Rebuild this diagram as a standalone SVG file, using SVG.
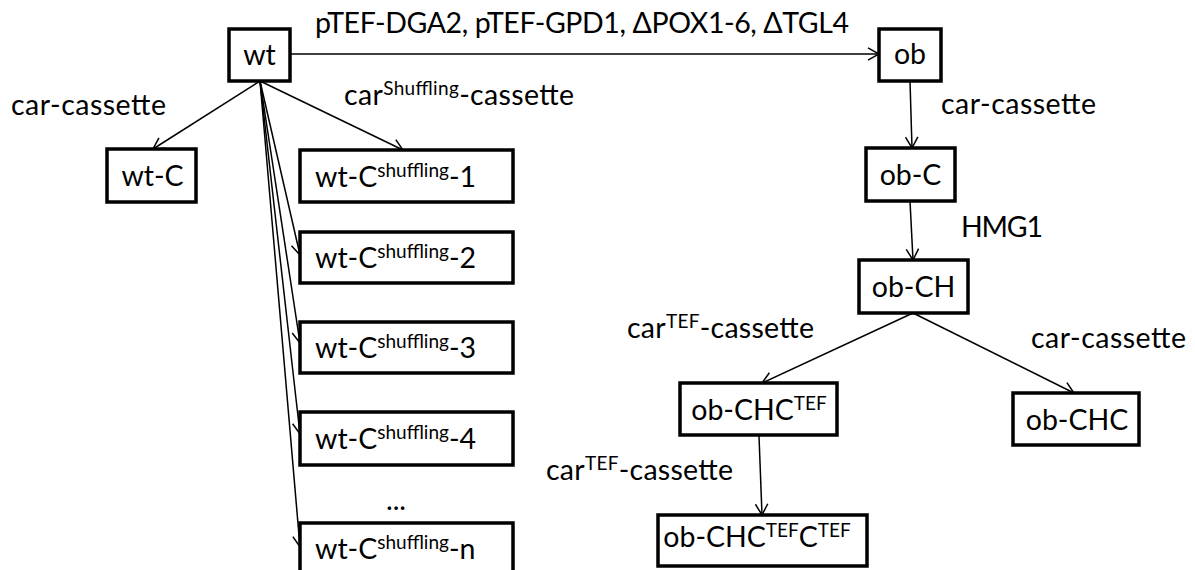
<svg xmlns="http://www.w3.org/2000/svg" width="1195" height="570" viewBox="0 0 1195 570">
<style>
text{font-family:Lato,"Open Sans","Liberation Sans",sans-serif;font-size:28.5px;fill:#000}
.box{fill:#fff;stroke:#000;stroke-width:3.5}
.edge{stroke:#000;stroke-width:1.5;fill:none;marker-end:url(#arr)}
.sup{font-size:19px}
.mid{text-anchor:middle}
</style>
<defs>
<marker id="arr" markerUnits="userSpaceOnUse" markerWidth="14" markerHeight="14" viewBox="0 0 14 14" refX="13" refY="7" orient="auto">
<path d="M2,0.8 L13,7 L2,13.2" fill="none" stroke="#000" stroke-width="1.5"/>
</marker>
</defs>
<rect width="1195" height="570" fill="#fff"/>
<g id="connectors">
<line class="edge" x1="291" y1="54" x2="879" y2="54"/>
<line class="edge" x1="260" y1="81" x2="153" y2="149"/>
<line class="edge" x1="260" y1="81" x2="403" y2="150"/>
<line class="edge" x1="260" y1="81" x2="300" y2="255"/>
<line class="edge" x1="260" y1="81" x2="300" y2="343"/>
<line class="edge" x1="260" y1="81" x2="300" y2="434"/>
<line class="edge" x1="260" y1="81" x2="300" y2="547"/>
<line class="edge" x1="910" y1="81" x2="912" y2="148"/>
<line class="edge" x1="910" y1="201" x2="913" y2="260"/>
<line class="edge" x1="913" y1="313" x2="762" y2="383"/>
<line class="edge" x1="913" y1="313" x2="1074" y2="393"/>
<line class="edge" x1="759" y1="436" x2="762" y2="515"/>
</g>
<g id="labels">
<text x="315" y="33" textLength="534">pTEF-DGA2, pTEF-GPD1, ΔPOX1-6, ΔTGL4</text>
<text x="11" y="115" textLength="155">car-cassette</text>
<text x="344" y="105" textLength="230">car<tspan class="sup" dy="-10">Shuffling</tspan><tspan dy="10">-cassette</tspan></text>
<text x="941" y="114" textLength="155">car-cassette</text>
<text x="961" y="237" textLength="82">HMG1</text>
<text x="627" y="338" textLength="187">car<tspan class="sup" dy="-10">TEF</tspan><tspan dy="10">-cassette</tspan></text>
<text x="1031" y="348" textLength="155">car-cassette</text>
<text x="546" y="480" textLength="187">car<tspan class="sup" dy="-10">TEF</tspan><tspan dy="10">-cassette</tspan></text>
<text x="396" y="510" class="mid">...</text>
</g>
<g id="wt"><rect class="box" x="229" y="29" width="61" height="52"/><text x="259.5" y="65" class="mid">wt</text></g>
<g id="ob"><rect class="box" x="879" y="29" width="62" height="52"/><text x="910" y="64" class="mid">ob</text></g>
<g id="wt-C"><rect class="box" x="107" y="149" width="89" height="53"/><text x="152.5" y="186" class="mid">wt-C</text></g>
<g id="wt-C-shuffling-1"><rect class="box" x="300" y="150" width="213" height="52"/><text x="315" y="187">wt-C<tspan class="sup" dy="-10">shuffling</tspan><tspan dy="10">-1</tspan></text></g>
<g id="wt-C-shuffling-2"><rect class="box" x="300" y="232" width="213" height="51"/><text x="315" y="268">wt-C<tspan class="sup" dy="-10">shuffling</tspan><tspan dy="10">-2</tspan></text></g>
<g id="wt-C-shuffling-3"><rect class="box" x="300" y="322" width="213" height="51"/><text x="315" y="358">wt-C<tspan class="sup" dy="-10">shuffling</tspan><tspan dy="10">-3</tspan></text></g>
<g id="wt-C-shuffling-4"><rect class="box" x="300" y="412" width="213" height="53"/><text x="315" y="449">wt-C<tspan class="sup" dy="-10">shuffling</tspan><tspan dy="10">-4</tspan></text></g>
<g id="wt-C-shuffling-n"><rect class="box" x="300" y="523" width="213" height="60"/><text x="315" y="559">wt-C<tspan class="sup" dy="-10">shuffling</tspan><tspan dy="10">-n</tspan></text></g>
<g id="ob-C"><rect class="box" x="866" y="148" width="89" height="53"/><text x="910.5" y="185" class="mid">ob-C</text></g>
<g id="ob-CH"><rect class="box" x="859" y="260" width="109" height="53"/><text x="913.5" y="297" class="mid">ob-CH</text></g>
<g id="ob-CHC-TEF"><rect class="box" x="680" y="383" width="157" height="52"/><text x="759" y="420" class="mid">ob-CHC<tspan class="sup" dy="-10">TEF</tspan></text></g>
<g id="ob-CHC"><rect class="box" x="1013" y="393" width="126" height="52"/><text x="1077" y="430" class="mid">ob-CHC</text></g>
<g id="ob-CHC-TEF-C-TEF"><rect class="box" x="658" y="515" width="209" height="51"/><text x="757" y="547" class="mid">ob-CHC<tspan class="sup" dy="-10">TEF</tspan><tspan dy="10">C</tspan><tspan class="sup" dy="-10">TEF</tspan></text></g>
</svg>
